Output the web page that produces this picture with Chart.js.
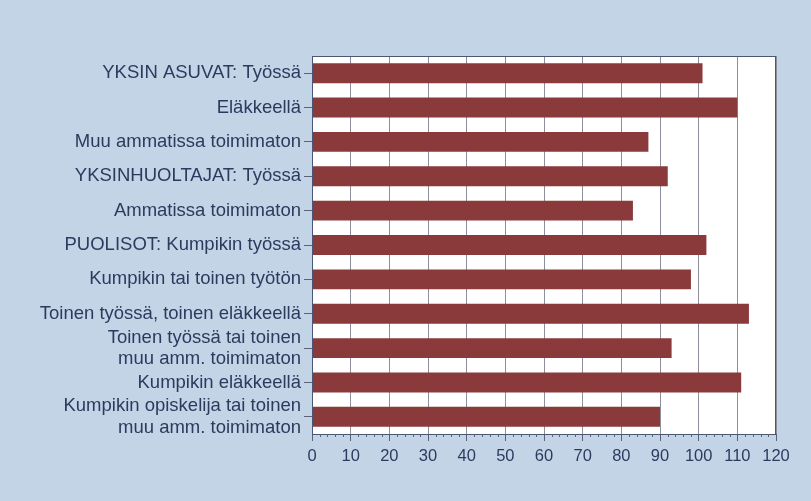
<!DOCTYPE html>
<html>
<head>
<meta charset="utf-8">
<script src="https://cdn.jsdelivr.net/npm/chart.js@4"></script>
<style>
  html, body { margin: 0; padding: 0; background: #c4d4e7; }
  #wrap { width: 811px; height: 501px; position: relative; }
</style>
</head>
<body>
<div id="wrap"><canvas id="incomeChart"></canvas></div>
<script>
// categories (top to bottom)
const categories = [
    'YKSIN ASUVAT: Työssä',
    'Eläkkeellä',
    'Muu ammatissa toimimaton',
    'YKSINHUOLTAJAT: Työssä',
    'Ammatissa toimimaton',
    'PUOLISOT: Kumpikin työssä',
    'Kumpikin tai toinen työtön',
    'Toinen työssä, toinen eläkkeellä',
    ['Toinen työssä tai toinen', 'muu amm. toimimaton'],
    'Kumpikin eläkkeellä',
    ['Kumpikin opiskelija tai toinen', 'muu amm. toimimaton']
];
const values = [101, 110, 87, 92, 83, 102, 98, 113, 93, 111, 90];
const xMin = 0;
const xMax = 120;
const xStep = 10;
const minorStep = 2;

const textColor = '#2b3b5e';
const labelFont = { family: "'Liberation Sans', Arial, sans-serif", size: 18.5, lineHeight: 1.15 };
const tickFont = { family: "'Liberation Sans', Arial, sans-serif", size: 16.5 };

// white plot area + frame + minor ticks on the x axis
const plotDecor = {
    id: 'plotDecor',
    beforeDraw(chart) {
        const { ctx, chartArea: a } = chart;
        ctx.save();
        ctx.fillStyle = '#ffffff';
        ctx.fillRect(a.left, a.top, a.right - a.left, a.bottom - a.top);
        ctx.restore();
    },
    afterDraw(chart) {
        const { ctx, chartArea: a } = chart;
        const x = chart.scales.x;
        ctx.save();
        ctx.strokeStyle = '#4a5674';
        ctx.lineWidth = 1;
        ctx.strokeRect(a.left + 0.5, a.top + 0.5, a.right - a.left - 1, a.bottom - a.top);
        ctx.strokeStyle = '#5a6278';
        ctx.beginPath();
        for (let v = xMin; v <= xMax; v += minorStep) {
            if (v % xStep === 0) continue;
            const px = Math.round(x.getPixelForValue(v)) + 0.5;
            ctx.moveTo(px, a.bottom);
            ctx.lineTo(px, a.bottom + 3);
        }
        ctx.stroke();
        ctx.restore();
    }
};

new Chart(document.getElementById('incomeChart'), {
    type: 'bar',
    data: {
        labels: categories,
        datasets: [{
            data: values,
            backgroundColor: '#8a3a3b',
            borderWidth: 0,
            barPercentage: 0.58,
            categoryPercentage: 1.0
        }]
    },
    options: {
        indexAxis: 'y',
        responsive: true,
        maintainAspectRatio: false,
        animation: false,
        layout: { padding: { top: 56, right: 35, bottom: 0, left: 0 } },
        plugins: {
            legend: { display: false },
            tooltip: { enabled: false }
        },
        scales: {
            x: {
                min: xMin,
                max: xMax,
                ticks: {
                    stepSize: xStep,
                    color: textColor,
                    font: tickFont,
                    padding: 6,
                    maxRotation: 0
                },
                grid: {
                    color: '#8c8f9c',
                    lineWidth: 1,
                    tickLength: 7,
                    tickColor: '#5a6278'
                },
                border: { display: true, color: '#4a5674' },
                afterFit(scale) { scale.height = 67; }
            },
            y: {
                ticks: {
                    color: textColor,
                    font: labelFont,
                    padding: 3,
                    autoSkip: false
                },
                grid: {
                    drawOnChartArea: false,
                    offset: false,
                    tickLength: 8,
                    tickColor: '#5a6278'
                },
                border: { display: true, color: '#4a5674' },
                afterFit(scale) { scale.width = 312; }
            }
        }
    },
    plugins: [plotDecor]
});
</script>
</body>
</html>
